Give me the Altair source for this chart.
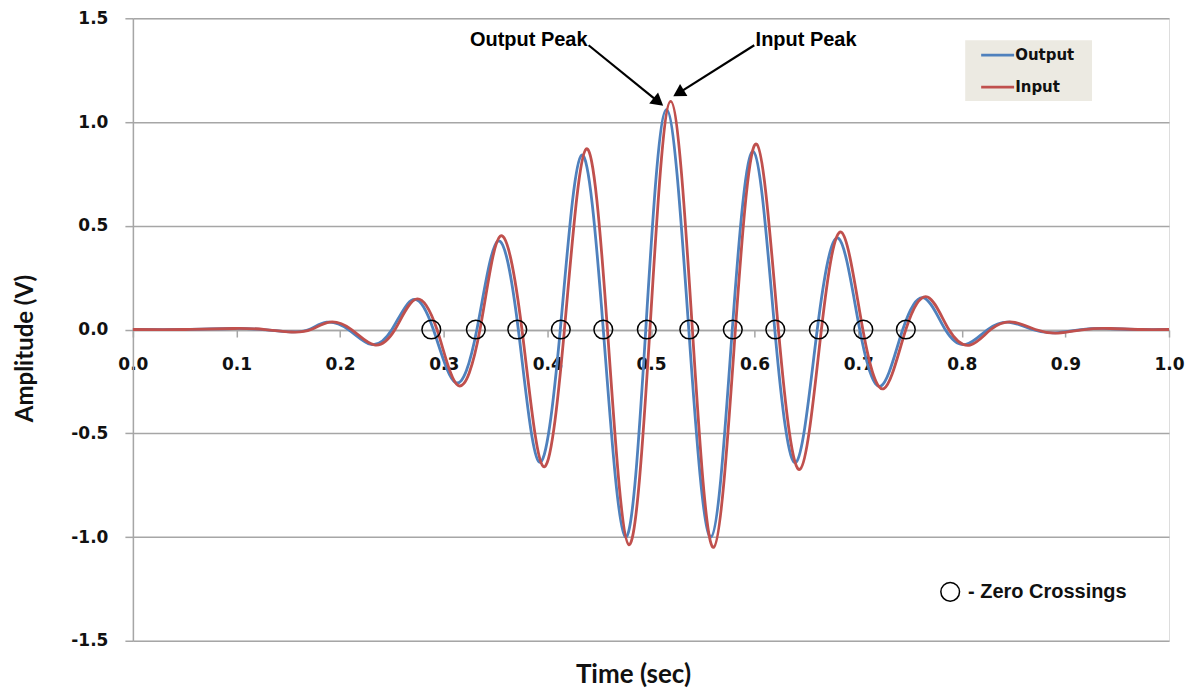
import altair as alt
import pandas as pd

# ---- data ----
out_t = [0.0, 0.05, 0.096, 0.125, 0.151, 0.17, 0.187, 0.208, 0.230, 0.250, 0.2703, 0.290,
         0.3115, 0.332, 0.352, 0.372, 0.392, 0.4125, 0.433, 0.454, 0.4754, 0.495, 0.515,
         0.5365, 0.558, 0.5785, 0.599, 0.6195, 0.640, 0.6605, 0.681, 0.7015, 0.722, 0.743,
         0.7637, 0.784, 0.804, 0.825, 0.846, 0.868, 0.89, 0.915, 0.94, 0.97, 1.0]
out_v = [0.0, 0.0, 0.005, 0.0, -0.011, 0.0, 0.035, 0.0, -0.072, 0.0, 0.144, 0.0,
         -0.256, 0.0, 0.425, 0.0, -0.638, 0.0, 0.84, 0.0, -1.0, 0.0, 1.06,
         0.0, -1.0, 0.0, 0.857, 0.0, -0.64, 0.0, 0.44, 0.0, -0.272, 0.0,
         0.152, 0.0, -0.072, 0.0, 0.035, 0.0, -0.016, 0.0, 0.005, 0.0, 0.0]

in_t = [0.0, 0.05, 0.098, 0.128, 0.153, 0.172, 0.19, 0.211, 0.233, 0.253, 0.2728, 0.2935,
        0.314, 0.335, 0.3545, 0.3755, 0.396, 0.4165, 0.4375, 0.458, 0.4786, 0.499, 0.519,
        0.540, 0.5605, 0.5815, 0.602, 0.623, 0.644, 0.6645, 0.684, 0.7045, 0.725, 0.746,
        0.767, 0.7875, 0.808, 0.828, 0.849, 0.871, 0.893, 0.918, 0.943, 0.973, 1.0]
in_v = [0.0, 0.0, 0.005, 0.0, -0.012, 0.0, 0.036, 0.0, -0.074, 0.0, 0.146, 0.0,
        -0.27, 0.0, 0.45, 0.0, -0.66, 0.0, 0.87, 0.0, -1.037, 0.0, 1.10,
        0.0, -1.05, 0.0, 0.894, 0.0, -0.673, 0.0, 0.468, 0.0, -0.284, 0.0,
        0.157, 0.0, -0.075, 0.0, 0.036, 0.0, -0.017, 0.0, 0.005, 0.0, 0.0]

zero_t = [0.288, 0.331, 0.371, 0.413, 0.454, 0.496, 0.537, 0.579, 0.620, 0.662, 0.705, 0.746]

x_ticks = [0.0, 0.1, 0.2, 0.3, 0.4, 0.5, 0.6, 0.7, 0.8, 0.9, 1.0]
y_ticks = [-1.5, -1.0, -0.5, 0.0, 0.5, 1.0, 1.5]

series_names = ["Output", "Input"]

# annotation anchors (data coordinates)
peak_labels = ["Output Peak", "Input Peak"]
peak_label_t = [0.4388, 0.6010]
peak_label_v = [1.394, 1.394]
arrow_t0 = [0.4398, 0.5997]
arrow_v0 = [1.370, 1.370]
arrow_t1 = [0.5072, 0.5266]
arrow_v1 = [1.0973, 1.1393]
arrow_angle = [128.8, 238.7]

BLUE = "#4F81BD"
RED = "#C0504D"
GRAY = "#A6A6A6"
MINUS_FIX = "replace(format(datum.value, '.1f'), '\u2212', '-')"

x_scale = alt.Scale(domain=[0, 1], nice=False, zero=False)
y_scale = alt.Scale(domain=[-1.5, 1.5], nice=False, zero=False)

df_out = pd.DataFrame({"t": out_t, "v": out_v})
df_in = pd.DataFrame({"t": in_t, "v": in_v})
df_zero = pd.DataFrame({"t": zero_t, "v": [0.0] * len(zero_t)})

x_axis = alt.Axis(values=x_ticks, labelExpr=MINUS_FIX, grid=False, offset=-311, tickSize=7,
                  labelPadding=20, labelFlush=False, title=None, domainColor=GRAY,
                  domainWidth=1.5, tickColor=GRAY, tickWidth=1.5, labelFont="DejaVu Sans",
                  labelFontWeight="bold", labelFontSize=17, labelColor="#111111")
y_axis = alt.Axis(values=y_ticks, labelExpr=MINUS_FIX, grid=True, gridColor=GRAY, gridWidth=1.5,
                  tickSize=8, tickColor=GRAY, tickWidth=1.5, labelPadding=17,
                  domainColor=GRAY, domainWidth=1.5, labelFont="DejaVu Sans",
                  labelFontWeight="bold", labelFontSize=17, labelColor="#111111",
                  title="Amplitude (V)", titleX=-107, titleY=330, titleAngle=270,
                  titleBaseline="middle", titleAlign="center", titleFont="Lato",
                  titleFontSize=24, titleFontWeight="bold", titleColor="#111111")

out_line = alt.Chart(df_out).mark_line(interpolate="natural", color=BLUE, strokeWidth=2.8).encode(
    x=alt.X("t:Q", scale=x_scale, axis=x_axis),
    y=alt.Y("v:Q", scale=y_scale, axis=y_axis),
)
in_line = alt.Chart(df_in).mark_line(interpolate="natural", color=RED, strokeWidth=2.8).encode(
    x=alt.X("t:Q", scale=x_scale),
    y=alt.Y("v:Q", scale=y_scale),
)

circles = alt.Chart(df_zero).mark_point(shape="circle", size=350, filled=False,
                                        stroke="black", strokeWidth=1.5, opacity=1).encode(
    x=alt.X("t:Q", scale=x_scale), y=alt.Y("v:Q", scale=y_scale))

df_ann = pd.DataFrame({"label": peak_labels, "t": peak_label_t, "v": peak_label_v})
ann_right = alt.Chart(df_ann.iloc[[0]]).mark_text(align="right", baseline="middle",
        font="Liberation Sans", fontWeight="bold", fontSize=20, color="black").encode(
    x=alt.X("t:Q", scale=x_scale), y=alt.Y("v:Q", scale=y_scale), text="label:N")
ann_left = alt.Chart(df_ann.iloc[[1]]).mark_text(align="left", baseline="middle",
        font="Liberation Sans", fontWeight="bold", fontSize=20, color="black").encode(
    x=alt.X("t:Q", scale=x_scale), y=alt.Y("v:Q", scale=y_scale), text="label:N")

df_arrow = pd.DataFrame({"t0": arrow_t0, "v0": arrow_v0, "t1": arrow_t1, "v1": arrow_v1,
                         "a": arrow_angle})
arrows = alt.Chart(df_arrow).mark_rule(color="black", strokeWidth=2.2).encode(
    x=alt.X("t0:Q", scale=x_scale), y=alt.Y("v0:Q", scale=y_scale), x2="t1:Q", y2="v1:Q")
heads = alt.Chart(df_arrow).mark_point(shape="triangle-up", filled=True, color="black",
                                       size=200, opacity=1).encode(
    x=alt.X("t1:Q", scale=x_scale), y=alt.Y("v1:Q", scale=y_scale),
    angle=alt.Angle("a:Q", scale=None))

# legend box
df_box = pd.DataFrame({"t0": [0.8033], "t1": [0.9257], "v0": [1.394], "v1": [1.101]})
box = alt.Chart(df_box).mark_rect(fill="#ECEAE2").encode(
    x=alt.X("t0:Q", scale=x_scale), x2="t1:Q", y=alt.Y("v0:Q", scale=y_scale), y2="v1:Q")
df_leg = pd.DataFrame({"name": series_names, "t0": [0.8187, 0.8187], "t1": [0.8505, 0.8505],
                       "v": [1.322, 1.168], "tt": [0.8515, 0.8515]})
leg_lines = alt.Chart(df_leg).mark_rule(strokeWidth=2.8).encode(
    x=alt.X("t0:Q", scale=x_scale), x2="t1:Q", y=alt.Y("v:Q", scale=y_scale),
    color=alt.Color("name:N", scale=alt.Scale(domain=series_names, range=[BLUE, RED]), legend=None))
leg_text = alt.Chart(df_leg).mark_text(align="left", baseline="middle", font="DejaVu Sans",
                                       fontWeight="bold", fontSize=15, color="#111111").encode(
    x=alt.X("tt:Q", scale=x_scale), y=alt.Y("v:Q", scale=y_scale), text="name:N")

# zero crossing key
df_key = pd.DataFrame({"t": [0.7888], "v": [-1.264], "tt": [0.806], "label": ["- Zero Crossings"]})
key_circle = alt.Chart(df_key).mark_point(shape="circle", size=350, filled=False,
                                          stroke="black", strokeWidth=1.5, opacity=1).encode(
    x=alt.X("t:Q", scale=x_scale), y=alt.Y("v:Q", scale=y_scale))
key_text = alt.Chart(df_key).mark_text(align="left", baseline="middle", font="Liberation Sans",
                                       fontWeight="bold", fontSize=20, color="#111111").encode(
    x=alt.X("tt:Q", scale=x_scale), y=alt.Y("v:Q", scale=y_scale), text="label:N")

x_title = alt.Chart(pd.DataFrame({"label": ["Time (sec)"]})).mark_text(
    align="center", baseline="middle", font="Lato", fontWeight="bold", fontSize=26,
    color="#111111").encode(x=alt.value(501), y=alt.value(657), text="label:N")

chart = alt.layer(out_line, in_line, circles, arrows, heads, ann_right, ann_left,
                  box, leg_lines, leg_text, key_circle, key_text, x_title).properties(
    width=1037, height=623,
    autosize=alt.AutoSizeParams(type="none"),
    padding={"left": 125, "top": 10, "right": 20, "bottom": 56},
).configure_view(strokeWidth=0).configure(background="white")

chart.save("out.html", embed_options={"renderer": "svg", "actions": False})
